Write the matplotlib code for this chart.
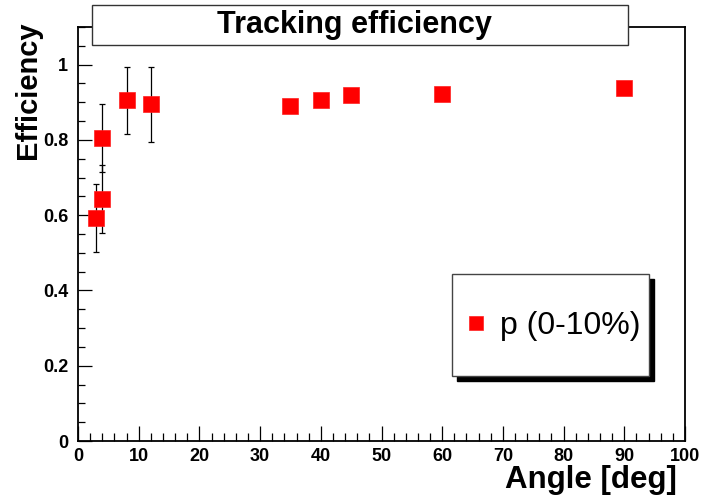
import matplotlib
matplotlib.use("Agg")
import matplotlib.pyplot as plt
from matplotlib.patches import Rectangle
from matplotlib.ticker import MultipleLocator

plt.rcParams['font.family'] = ['Liberation Sans', 'DejaVu Sans']

# Tracking efficiency vs. angle for protons, 0-10% centrality
angle = [3, 4, 4, 8, 12, 35, 40, 45, 60, 90]
efficiency = [0.592, 0.643, 0.805, 0.905, 0.895, 0.890, 0.906, 0.918, 0.921, 0.938]
eff_err = [0.09, 0.09, 0.09, 0.09, 0.10, 0.0, 0.0, 0.0, 0.0, 0.0]
series_label = "p (0-10%)"

W, H = 701, 498
fig = plt.figure(figsize=(W / 100, H / 100), dpi=100)

def fx(px):
    return px / W

def fy(py):
    return 1 - py / H

ax = fig.add_axes([fx(78), fy(441), fx(685) - fx(78), fy(27) - fy(441)])

ax.errorbar(angle, efficiency, yerr=eff_err, fmt='none', ecolor='black',
            elinewidth=0.9, capsize=2.5, capthick=0.9, zorder=2)
points, = ax.plot(angle, efficiency, linestyle='none', marker='s', markersize=11.5,
                  color='#ff0000', markeredgecolor='#ff2020', markeredgewidth=0.5,
                  label=series_label, zorder=3)

ax.set_xlim(0, 100)
ax.set_ylim(0, 1.1)
ax.xaxis.set_major_locator(MultipleLocator(10))
ax.xaxis.set_minor_locator(MultipleLocator(2))
ax.yaxis.set_major_locator(MultipleLocator(0.2))
ax.yaxis.set_minor_locator(MultipleLocator(0.05))
ax.set_xticks([0, 10, 20, 30, 40, 50, 60, 70, 80, 90, 100])
ax.set_xticklabels(['0', '10', '20', '30', '40', '50', '60', '70', '80', '90', '100'])
ax.set_yticks([0, 0.2, 0.4, 0.6, 0.8, 1.0])
ax.set_yticklabels(['0', '0.2', '0.4', '0.6', '0.8', '1'])

for s in ax.spines.values():
    s.set_linewidth(1.3)
    s.set_color('black')

ax.tick_params(axis='both', which='both', direction='in', top=False, right=False,
               width=0.9, color='black')
ax.tick_params(axis='x', which='major', length=11, pad=5, labelsize=13)
ax.tick_params(axis='x', which='minor', length=5.5)
ax.tick_params(axis='y', which='major', length=10, pad=7, labelsize=13)
ax.tick_params(axis='y', which='minor', length=5)
for lab in ax.get_xticklabels() + ax.get_yticklabels():
    lab.set_fontweight('bold')

# Axis titles, right/top aligned like ROOT
fig.text(fx(677), fy(480), "Angle [deg]", ha='right', va='center',
         fontsize=22.5, fontweight='bold')
fig.text(fx(28), fy(21), "Efficiency", ha='center', va='top', rotation=90,
         fontsize=21, fontweight='bold')

# Title box
fig.add_artist(Rectangle((fx(92), fy(45)), fx(628) - fx(92), fy(5) - fy(45),
                         transform=fig.transFigure, facecolor='white',
                         edgecolor='#333333', linewidth=1.0, zorder=5))
fig.text(fx(354), fy(25), "Tracking efficiency", ha='center', va='center',
         fontsize=22, fontweight='bold', zorder=6)

# Legend box with drop shadow
lx0, ly0, lx1, ly1 = 452, 274, 649, 376
fig.add_artist(Rectangle((fx(lx0 + 5), fy(ly1 + 5)), fx(lx1) - fx(lx0), fy(ly0) - fy(ly1),
                         transform=fig.transFigure, facecolor='black',
                         edgecolor='black', linewidth=1.0, zorder=5))
fig.add_artist(Rectangle((fx(lx0), fy(ly1)), fx(lx1) - fx(lx0), fy(ly0) - fy(ly1),
                         transform=fig.transFigure, facecolor='white',
                         edgecolor='#444444', linewidth=1.0, zorder=6))
leg = fig.legend(handles=[points], loc='center left', bbox_to_anchor=(fx(463), fy(326)),
                 bbox_transform=fig.transFigure, frameon=False, fontsize=23,
                 handlelength=0.8, handletextpad=0.35, borderpad=0, borderaxespad=0,
                 markerscale=0.85)
leg.set_zorder(7)

fig.savefig("out.png", dpi=100)
